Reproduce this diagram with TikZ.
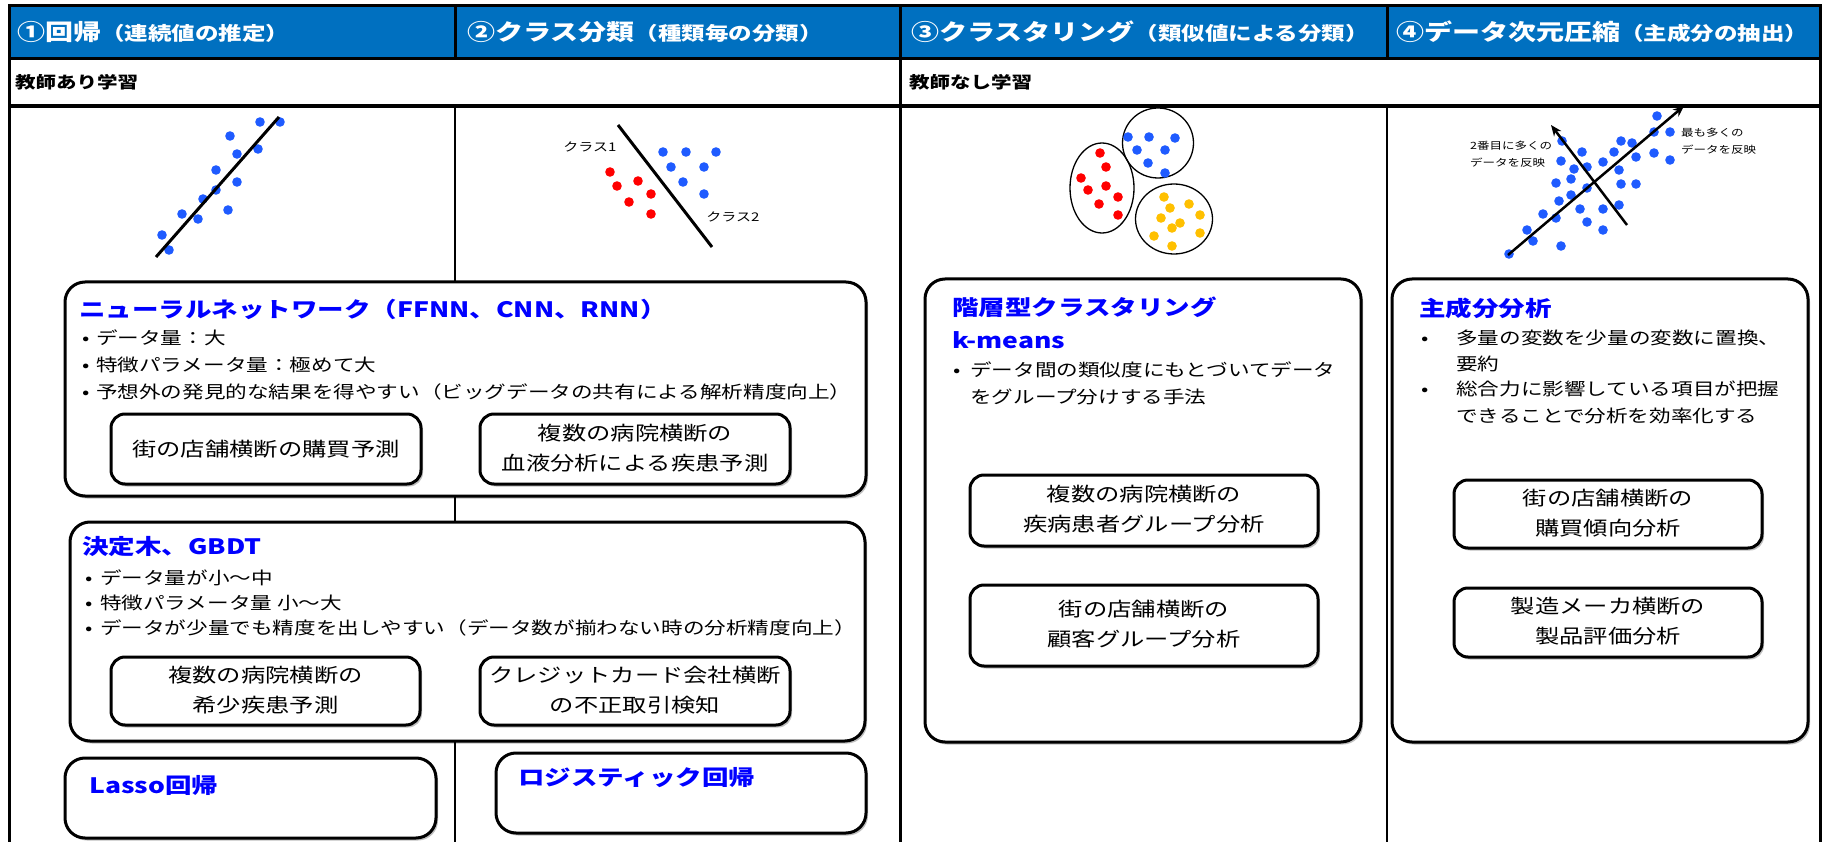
\documentclass[tikz,border=0pt]{standalone}
\usepackage{fontspec}
\setmainfont{Noto Sans CJK JP}
\usetikzlibrary{shadows,arrows.meta,shapes.geometric}
\definecolor{hdr}{HTML}{0070C0}
\definecolor{ttl}{HTML}{0000FF}
\definecolor{dblue}{HTML}{1F5BFF}
\definecolor{dred}{HTML}{FF0000}
\definecolor{dyel}{HTML}{FFC000}
\newcommand{\sq}[1]{\scalebox{1}[0.8]{#1}}
\newcommand{\twol}[2]{\sq{\begin{tabular}{@{}c@{}}#1\\#2\end{tabular}}}
\newcommand{\twoleft}[2]{\sq{\begin{tabular}{@{}l@{}}#1\\#2\end{tabular}}}
\newcommand{\bul}[2]{\sq{\makebox[#1][l]{•}#2}}
\newcommand{\hbig}{\fontsize{28pt}{28pt}\selectfont}
\newcommand{\hsmall}{\fontsize{23.5pt}{23.5pt}\selectfont}
\begin{document}
\begin{tikzpicture}[x=1pt,y=-1pt,
  frameline/.style={line width=3pt},
  bigbox/.style={draw, line width=3pt, rounded corners=20pt, fill=white, inner sep=0pt,
    drop shadow={shadow xshift=2pt, shadow yshift=-2.5pt, fill=black, opacity=0.25}},
  smallbox/.style={draw, line width=3pt, rounded corners=14pt, fill=white, inner sep=0pt,
    font=\fontsize{24.3pt}{37.5pt}\selectfont,
    drop shadow={shadow xshift=2pt, shadow yshift=-2.5pt, fill=black, opacity=0.25}},
  ttltext/.style={anchor=west, inner sep=0pt, text=ttl, font=\fontsize{26.5pt}{30pt}\selectfont\bfseries},
  bodytext/.style={anchor=west, inner sep=0pt, font=\fontsize{21.6pt}{37.5pt}\selectfont},
  hdrtext/.style={anchor=west, inner sep=0pt, text=white, font=\bfseries},
  rowtext/.style={anchor=west, inner sep=0pt, font=\fontsize{20.5pt}{24pt}\selectfont\bfseries},
  lbl/.style={inner sep=0pt, font=\fontsize{15pt}{18pt}\selectfont},
  lblsmall/.style={anchor=west, inner sep=0pt, font=\fontsize{12.5pt}{21pt}\selectfont},
  plotline/.style={line width=3pt},
  plotarrow/.style={line width=2.5pt, -{Stealth[length=11pt,width=9pt]}},
  ell/.style={draw, ellipse, line width=1.3pt, inner sep=0pt}
]
\useasboundingbox (0,0) rectangle (1829,842);
\fill[white] (0,0) rectangle (1829,842);

% header band and frame
\fill[hdr] (9,6) rectangle (1820,59);
\draw[line width=2.5pt] (455,106) -- (455,842);
\draw[line width=2.5pt] (1387,106) -- (1387,842);
\draw[frameline] (900,6) -- (900,842);
\draw[frameline] (455,6) -- (455,59);
\draw[frameline] (1387,6) -- (1387,59);
\draw[frameline] (9,6) -- (1820,6);
\draw[frameline] (9,59) -- (1820,59);
\draw[line width=4pt] (9,106) -- (1820,106);
\draw[frameline] (9,4.5) -- (9,842);
\draw[frameline] (1820,4.5) -- (1820,842);

% header texts
\node[hdrtext] (h1) at (17,32) {\sq{{\hbig ①回帰}{\hsmall （連続値の推定）}}};
\node[hdrtext] (h2) at (467,32) {\sq{{\hbig ②クラス分類}{\hsmall （種類毎の分類）}}};
\node[hdrtext] (h3) at (911,32) {\sq{{\hbig ③クラスタリング}{\hsmall （類似値による分類）}}};
\node[hdrtext] (h4) at (1396,32) {\sq{{\hbig ④データ次元圧縮}{\hsmall （主成分の抽出）}}};

\node[rowtext] (sup) at (15,82) {\sq{教師あり学習}};
\node[rowtext] (unsup) at (909,82) {\sq{教師なし学習}};

% panel 1: regression
\coordinate (r1) at (156,257);
\coordinate (r2) at (279,117);
\foreach \x/\y in {260/122,280/122,230/136,258/149,237/154,216/170,237/182,216/190,203/199,228/210,182/214,198/219,162/235,169/250}
  \fill[dblue] (\x,\y) circle (4.8pt);
\draw[plotline] (r1) -- (r2);

% panel 2: classification
\coordinate (c1) at (618,125);
\coordinate (c2) at (712,247);
\draw[plotline] (c1) -- (c2);
\foreach \x/\y in {663/152,686/152,716/152,671/167,704/167,683/182,704/194}
  \fill[dblue] (\x,\y) circle (4.8pt);
\foreach \x/\y in {610/172,617/186,638/181,651/194,629/202,651/214}
  \fill[dred] (\x,\y) circle (4.8pt);
\node[lbl] (cls1) at (590,147) {\sq{クラス1}};
\node[lbl] (cls2) at (733,217) {\sq{クラス2}};

% panel 3: clustering
\node[ell, minimum width=71pt, minimum height=70pt] (eb) at (1158,143) {};
\node[ell, minimum width=64pt, minimum height=90pt] (er) at (1102,188) {};
\node[ell, minimum width=77pt, minimum height=70pt] (ey) at (1174,219) {};
\foreach \x/\y in {1128/137,1149/137,1175/138,1137/150,1165/150,1148/163,1165/173}
  \fill[dblue] (\x,\y) circle (4.8pt);
\foreach \x/\y in {1100/153,1106/167,1081/178,1106/186,1088/190,1118/197,1099/204,1118/215}
  \fill[dred] (\x,\y) circle (4.8pt);
\foreach \x/\y in {1164/197,1189/204,1170/208,1200/215,1161/218,1180/223,1172/228,1200/233,1154/236,1172/246}
  \fill[dyel] (\x,\y) circle (4.8pt);

% panel 4: PCA
\foreach \x/\y in {1657/116,1654/132,1670/132,1562/141,1621/141,1632/143,1582/152,1614/152,1654/153,1636/157,1670/160,1561/161,1603/162,1587/167,1574/169,1619/170,1571/179,1556/183,1621/184,1636/184,1587/188,1571/195,1559/201,1619/205,1580/209,1603/209,1543/214,1556/218,1587/222,1527/230,1603/230,1533/241,1561/246,1509/254}
  \fill[dblue] (\x,\y) circle (4.8pt);
\coordinate (pa1) at (1508,255);
\coordinate (pa2) at (1684,106);
\coordinate (pb1) at (1627,225);
\coordinate (pb2) at (1551,125);
\draw[plotarrow] (pa1) -- (pa2);
\draw[plotarrow] (pb1) -- (pb2);
\node[lblsmall] (pl1) at (1681,142) {\twoleft{最も多くの}{データを反映}};
\node[lblsmall] (pl2) at (1470,155) {\twoleft{2番目に多くの}{データを反映}};

% neural network box
\node[bigbox, minimum width=801pt, minimum height=214pt] (nn) at (465.5,389) {};
\node[ttltext] (nnt) at (79,309) {\sq{ニューラルネットワーク（FFNN、CNN、RNN）}};
\node[bodytext] (nnb1) at (82,338) {\bul{14pt}{データ量：大}};
\node[bodytext] (nnb2) at (82,365) {\bul{14pt}{特徴パラメータ量：極めて大}};
\node[bodytext] (nnb3) at (82,392) {\bul{14pt}{予想外の発見的な結果を得やすい（ビッグデータの共有による解析精度向上）}};
\node[smallbox, minimum width=310pt, minimum height=70pt] (nn1) at (266,449) {\sq{街の店舗横断の購買予測}};
\node[smallbox, minimum width=310pt, minimum height=70pt] (nn2) at (635,449) {\twol{複数の病院横断の}{血液分析による疾患予測}};

% decision tree box
\node[bigbox, minimum width=795pt, minimum height=219pt] (dt) at (467.5,631.5) {};
\node[ttltext] (dtt) at (82,547) {\sq{決定木、GBDT}};
\node[bodytext] (dtb1) at (85,578) {\bul{15pt}{データ量が小～中}};
\node[bodytext] (dtb2) at (85,603) {\bul{15pt}{特徴パラメータ量 小～大}};
\node[bodytext] (dtb3) at (85,628) {\bul{15pt}{データが少量でも精度を出しやすい（データ数が揃わない時の分析精度向上）}};
\node[smallbox, minimum width=309pt, minimum height=68pt] (dt1) at (265.5,691) {\twol{複数の病院横断の}{希少疾患予測}};
\node[smallbox, minimum width=310pt, minimum height=68pt] (dt2) at (635,691) {\twol{クレジットカード会社横断}{の不正取引検知}};

% lasso and logistic
\node[bigbox, minimum width=371pt, minimum height=80pt] (lasso) at (250.5,798) {};
\node[ttltext] (lassot) at (89,785) {\sq{Lasso回帰}};
\node[bigbox, minimum width=370pt, minimum height=80pt] (logi) at (681,793) {};
\node[ttltext] (logit) at (518,778) {\sq{ロジスティック回帰}};

% clustering box
\node[bigbox, minimum width=436pt, minimum height=463pt] (cl) at (1143,510.5) {};
\node[ttltext] (clt1) at (952,307) {\sq{階層型クラスタリング}};
\node[ttltext] (clt2) at (952,340) {\sq{k-means}};
\node[bodytext] (clb1) at (953,370) {\bul{17pt}{データ間の類似度にもとづいてデータ}};
\node[bodytext] (clb2) at (970,397) {\sq{をグループ分けする手法}};
\node[smallbox, minimum width=348pt, minimum height=71pt] (cl1) at (1144,510.5) {\twol{複数の病院横断の}{疾病患者グループ分析}};
\node[smallbox, minimum width=348pt, minimum height=81pt] (cl2) at (1144,625.5) {\twol{街の店舗横断の}{顧客グループ分析}};

% PCA box
\node[bigbox, minimum width=416pt, minimum height=463pt] (pc) at (1600,510.5) {};
\node[ttltext] (pct) at (1419,308) {\sq{主成分分析}};
\node[bodytext] (pcb1) at (1421,338) {\bul{35pt}{多量の変数を少量の変数に置換、}};
\node[bodytext] (pcb1b) at (1456,364) {\sq{要約}};
\node[bodytext] (pcb2) at (1421,389) {\bul{35pt}{総合力に影響している項目が把握}};
\node[bodytext] (pcb2b) at (1456,416) {\sq{できることで分析を効率化する}};
\node[smallbox, minimum width=308pt, minimum height=68pt] (pc1) at (1608,514) {\twol{街の店舗横断の}{購買傾向分析}};
\node[smallbox, minimum width=308pt, minimum height=69pt] (pc2) at (1608,622.5) {\twol{製造メーカ横断の}{製品評価分析}};
\end{tikzpicture}
\end{document}
